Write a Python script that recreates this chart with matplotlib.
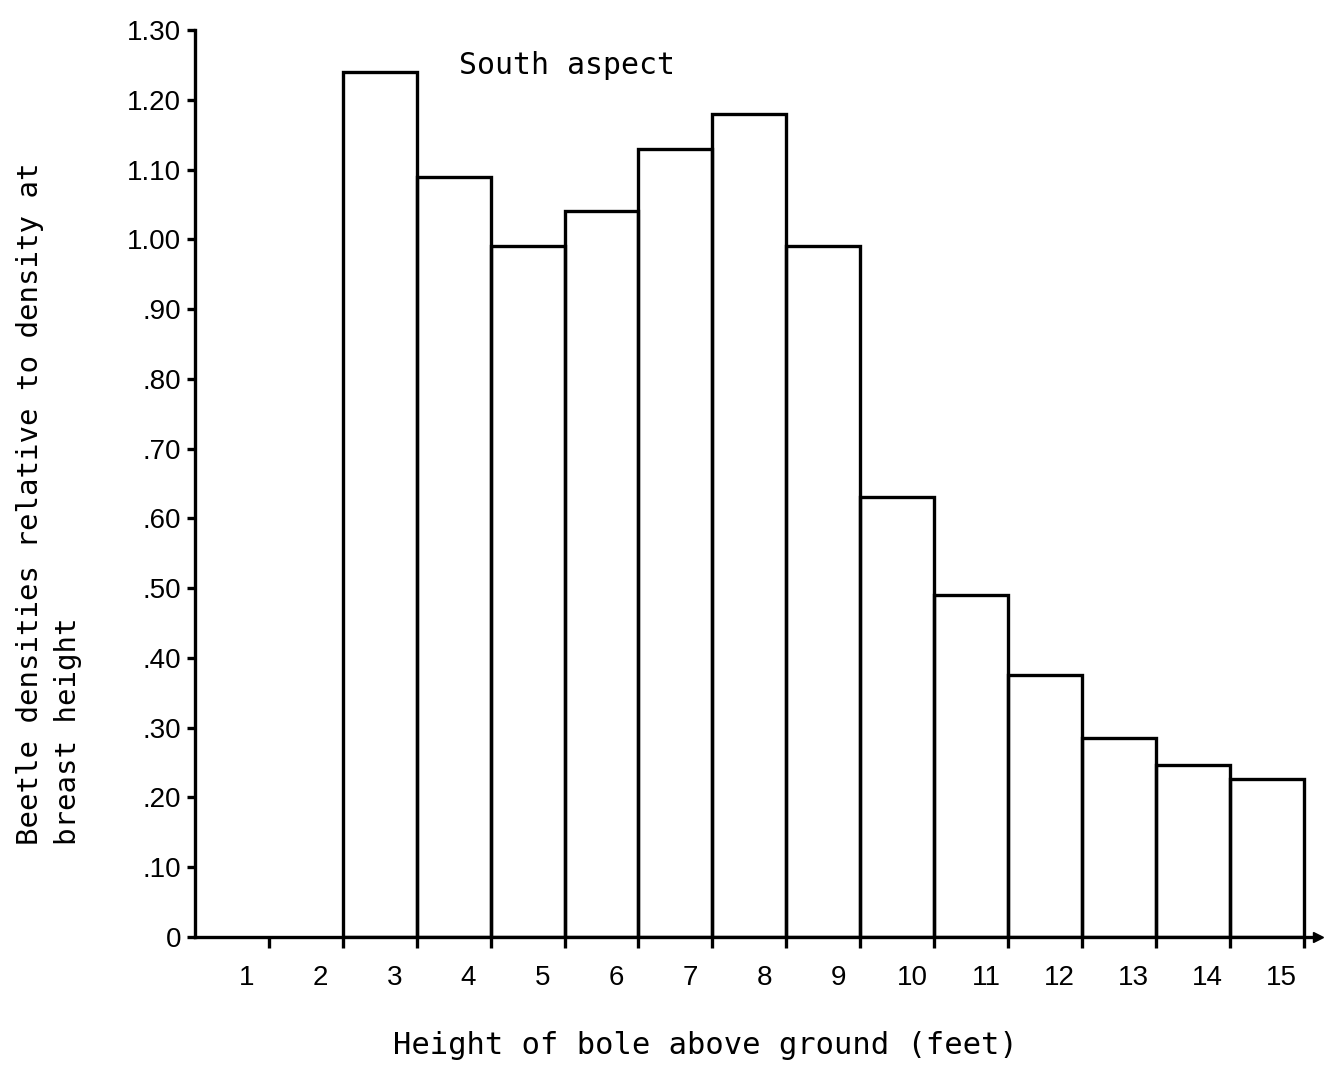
import matplotlib
matplotlib.use("Agg")
import matplotlib.pyplot as plt
import matplotlib.transforms as mtransforms

# Data
bin_left_edges = [2, 3, 4, 5, 6, 7, 8, 9, 10, 11, 12, 13, 14]
relative_density = [1.24, 1.09, 0.99, 1.04, 1.13, 1.18, 0.99, 0.63, 0.49, 0.375, 0.285, 0.247, 0.227]
x_tick_positions = list(range(1, 16))
x_tick_labels = [str(i) for i in range(1, 16)]
y_tick_values = [0, 0.10, 0.20, 0.30, 0.40, 0.50, 0.60, 0.70, 0.80, 0.90, 1.00, 1.10, 1.20, 1.30]
y_tick_labels = ["0", ".10", ".20", ".30", ".40", ".50", ".60", ".70", ".80", ".90",
                 "1.00", "1.10", "1.20", "1.30"]

mono = "DejaVu Sans Mono"
sans = "Liberation Sans"

W, H = 1327, 1068
fig = plt.figure(figsize=(W / 100, H / 100), dpi=100)
ax = fig.add_axes([195 / W, 1 - 937 / H, (1318 - 195) / W, (937 - 30) / H])

lw = 2.4
ax.bar(bin_left_edges, relative_density, width=1.0, align="edge",
       fill=False, edgecolor="black", linewidth=lw)

ax.set_xlim(0, (1318 - 195) / 73.9)
ax.set_ylim(0, 1.30)

for s in ["top", "right"]:
    ax.spines[s].set_visible(False)
for s in ["left", "bottom"]:
    ax.spines[s].set_linewidth(lw)
    ax.spines[s].set_color("black")

ax.set_xticks(x_tick_positions)
ax.set_xticklabels(x_tick_labels, fontsize=20, family=sans)
ax.set_yticks(y_tick_values)
ax.set_yticklabels(y_tick_labels, fontsize=20, family=sans)
ax.tick_params(axis="x", direction="out", length=8, width=lw, pad=12)
ax.tick_params(axis="y", direction="out", length=6, width=lw, pad=4)

offset = mtransforms.ScaledTranslation(-22 / 100, 0, fig.dpi_scale_trans)
for lbl in ax.get_xticklabels():
    lbl.set_transform(lbl.get_transform() + offset)

# arrow at end of x-axis
ax.plot([1], [0], marker=">", color="black", markersize=7,
        transform=ax.get_yaxis_transform(), clip_on=False)

fig.text(459 / W, 1 - 66 / H, "South aspect", fontsize=21.5, family=mono,
         ha="left", va="center")
fig.text(0.5 * (390 + 1020) / W, 1 - 1046 / H, "Height of bole above ground (feet)",
         fontsize=22, family=mono, ha="center", va="center")
fig.text(30 / W, 1 - 845 / H, "Beetle densities relative to density at",
         fontsize=21, family=mono, ha="center", va="bottom", rotation=90)
fig.text(68 / W, 1 - 845 / H, "breast height",
         fontsize=21, family=mono, ha="center", va="bottom", rotation=90)

fig.savefig("out.png", dpi=100)
